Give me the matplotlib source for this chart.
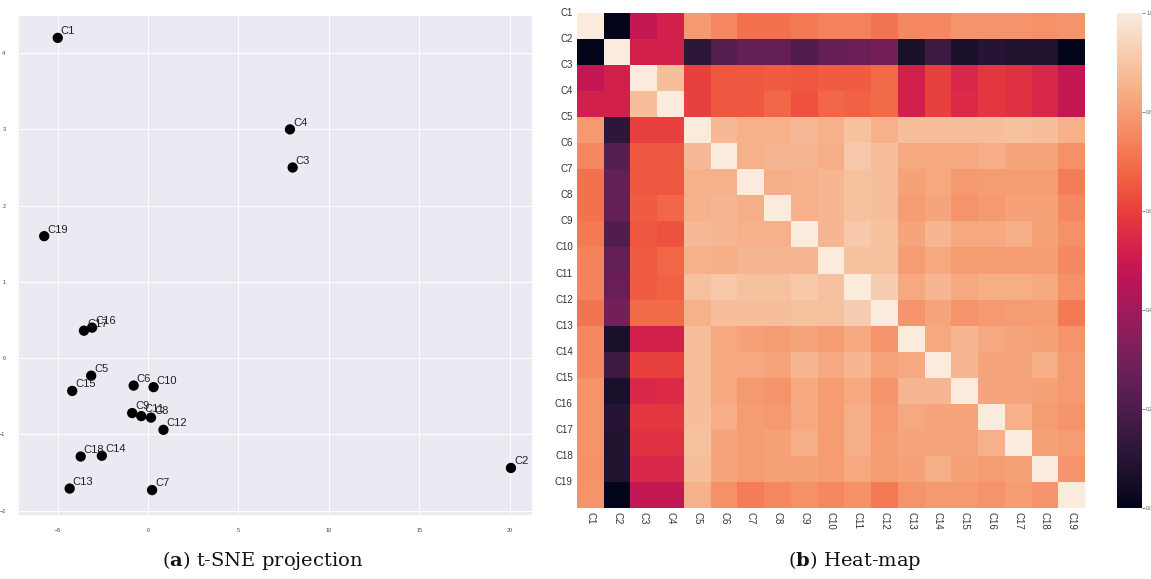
import numpy as np
import pandas as pd
import matplotlib
matplotlib.use("Agg")
import matplotlib.pyplot as plt
import seaborn as sns

# ---------------- data ----------------
labels = [f"C{i}" for i in range(1, 20)]

# t-SNE projection coordinates
tsne_x = [-5.0, 20.08, 8.0, 7.85, -3.15, -0.8, 0.22, 0.16, -0.88, 0.3,
          -0.38, 0.85, -4.34, -2.56, -4.2, -3.1, -3.55, -3.73, -5.75]
tsne_y = [4.2, -1.44, 2.5, 3.0, -0.23, -0.36, -1.73, -0.78, -0.72, -0.38,
          -0.76, -0.94, -1.71, -1.28, -0.43, 0.4, 0.36, -1.29, 1.6]

# upper triangle of the correlation heat-map (row i, columns i+1 .. 19)
upper = [
    [0.00, 0.48, 0.52, 0.79, 0.75, 0.70, 0.70, 0.72, 0.74, 0.74, 0.71, 0.75, 0.75, 0.78, 0.78, 0.78, 0.77, 0.78],
    [0.52, 0.52, 0.12, 0.22, 0.26, 0.26, 0.21, 0.26, 0.27, 0.30, 0.07, 0.16, 0.07, 0.10, 0.09, 0.09, 0.00],
    [0.88, 0.60, 0.65, 0.65, 0.66, 0.65, 0.66, 0.66, 0.69, 0.52, 0.60, 0.54, 0.58, 0.57, 0.54, 0.48],
    [0.60, 0.65, 0.65, 0.68, 0.64, 0.68, 0.67, 0.69, 0.52, 0.60, 0.55, 0.58, 0.57, 0.54, 0.48],
    [0.87, 0.85, 0.85, 0.87, 0.85, 0.89, 0.85, 0.88, 0.88, 0.88, 0.88, 0.89, 0.88, 0.85],
    [0.85, 0.86, 0.86, 0.84, 0.91, 0.88, 0.83, 0.83, 0.83, 0.84, 0.82, 0.82, 0.77],
    [0.84, 0.85, 0.86, 0.89, 0.88, 0.81, 0.83, 0.79, 0.80, 0.80, 0.80, 0.73],
    [0.85, 0.86, 0.89, 0.88, 0.80, 0.82, 0.78, 0.79, 0.81, 0.81, 0.75],
    [0.86, 0.91, 0.89, 0.82, 0.86, 0.83, 0.83, 0.84, 0.81, 0.77],
    [0.89, 0.89, 0.80, 0.83, 0.80, 0.80, 0.80, 0.80, 0.75],
    [0.92, 0.83, 0.86, 0.83, 0.84, 0.84, 0.83, 0.77],
    [0.78, 0.82, 0.78, 0.79, 0.80, 0.80, 0.72],
    [0.83, 0.86, 0.83, 0.82, 0.81, 0.78],
    [0.86, 0.82, 0.82, 0.84, 0.79],
    [0.82, 0.82, 0.81, 0.79],
    [0.85, 0.80, 0.78],
    [0.81, 0.80],
    [0.78],
]

n = len(labels)
corr = np.eye(n)
for i, row in enumerate(upper):
    for k, v in enumerate(row):
        j = i + 1 + k
        corr[i, j] = v
        corr[j, i] = v
corr_df = pd.DataFrame(corr, index=labels, columns=labels)

# ---------------- style ----------------
sns.set_theme(style="darkgrid")
plt.rcParams["font.family"] = ["Liberation Sans", "DejaVu Sans"]
plt.rcParams["mathtext.fontset"] = "custom"
plt.rcParams["mathtext.rm"] = "DejaVu Serif"
plt.rcParams["mathtext.bf"] = "DejaVu Serif:bold"

W, H = 1151, 579
fig = plt.figure(figsize=(W / 100, H / 100), dpi=100)

def box(x0, y0, x1, y1):
    return [x0 / W, 1 - y1 / H, (x1 - x0) / W, (y1 - y0) / H]

# ---------------- (a) t-SNE scatter ----------------
ax1 = fig.add_axes(box(18, 15, 533, 516))
ax1.scatter(tsne_x, tsne_y, s=55, color="black", edgecolors="none", zorder=3)
for lab, x, y in zip(labels, tsne_x, tsne_y):
    ax1.annotate(lab, (x, y), xytext=(2.2, 2.6), textcoords="offset points",
                 fontsize=8, color="#222222", zorder=4)
ax1.set_xticks([-5, 0, 5, 10, 15, 20])
ax1.set_yticks([-2, -1, 0, 1, 2, 3, 4])
ax1.grid(True, color="white", linewidth=0.7)
ax1.tick_params(labelsize=4, colors="#444444", pad=3)
ax1.set_xlim(-7.2, 21.3)
ax1.set_ylim(-2.07, 4.5)

# ---------------- (b) heat-map ----------------
ax2 = fig.add_axes(box(577, 13, 1085, 508))
cax = fig.add_axes(box(1117, 13, 1142, 508))
sns.heatmap(corr_df, ax=ax2, cbar_ax=cax, cmap="rocket", vmin=0, vmax=1,
            xticklabels=labels, yticklabels=labels)
ax2.grid(False)
ax2.set_yticks(np.arange(n))
ax2.set_yticklabels(labels, rotation=0, fontsize=7, color="#333333")
ax2.set_xticklabels(labels, rotation=270, fontsize=7, color="#333333")
ax2.tick_params(axis="both", length=0, pad=3)
cax.tick_params(labelsize=3.5, length=2, width=0.5, colors="#555555", pad=1)
cax.set_yticks([0.0, 0.2, 0.4, 0.6, 0.8, 1.0])
for sp in cax.spines.values():
    sp.set_visible(False)

# ---------------- captions ----------------
fig.text(263 / W, 1 - 561 / H, r"($\mathbf{a}$) t-SNE projection",
         ha="center", va="center", fontsize=14, family="DejaVu Serif", color="#111111")
fig.text(855 / W, 1 - 561 / H, r"($\mathbf{b}$) Heat-map",
         ha="center", va="center", fontsize=14, family="DejaVu Serif", color="#111111")

fig.savefig("out.png", dpi=100, facecolor="white")
